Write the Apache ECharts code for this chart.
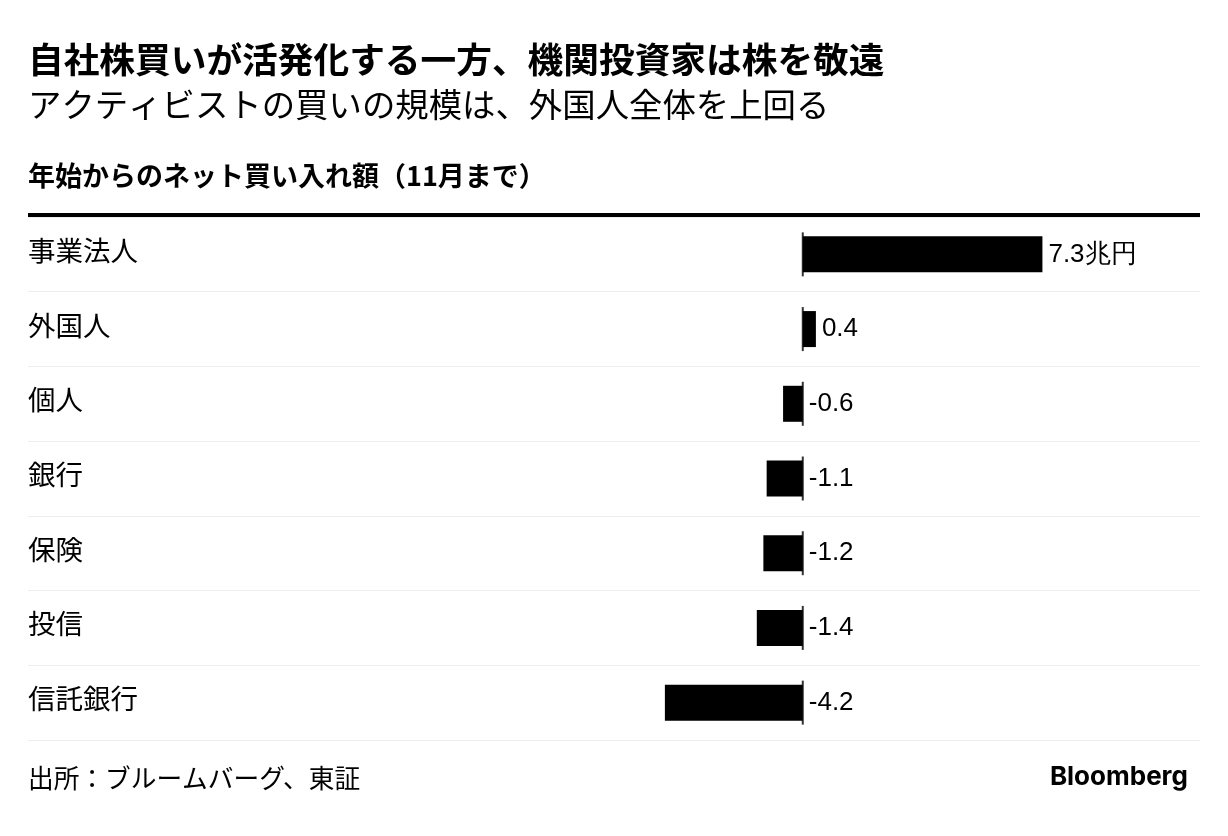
<!DOCTYPE html>
<html><head><meta charset="utf-8">
<script src="https://cdn.jsdelivr.net/npm/echarts@6/dist/echarts.min.js"></script>
<style>html,body{margin:0;padding:0;background:#fff}#c{width:1228px;height:836px}</style>
</head><body><div id="c"></div>
<script>
const categories = ['事業法人','外国人','個人','銀行','保険','投信','信託銀行'];
const values = [7.3, 0.4, -0.6, -1.1, -1.2, -1.4, -4.2];
const valueLabels = ['7.3兆円','0.4','-0.6','-1.1','-1.2','-1.4','-4.2'];
const zeroMarks = categories.map(() => 0);

const FONT = '"Noto Sans CJK JP", "Noto Sans", sans-serif';
const chart = echarts.init(document.getElementById('c'));
chart.setOption({
  backgroundColor: '#fff',
  animation: false,
  title: [
    {text: '自社株買いが活発化する一方、機関投資家は株を敬遠', left: 23, top: 37,
     textStyle: {fontFamily: FONT, fontSize: 35.7, fontWeight: 'bold', color: '#000'}},
    {text: 'アクティビストの買いの規模は、外国人全体を上回る', left: 23, top: 83,
     textStyle: {fontFamily: FONT, fontSize: 33.4, fontWeight: 'normal', color: '#000'}},
    {text: '年始からのネット買い入れ額（11月まで）', left: 23, top: 157,
     textStyle: {fontFamily: FONT, fontSize: 27, fontWeight: 'bold', color: '#000'}},
    {text: '出所：ブルームバーグ、東証', left: 23, top: 760,
     textStyle: {fontFamily: FONT, fontSize: 25.7, fontWeight: 'normal', color: '#000'}},
    {text: 'Bloomberg', right: 35, top: 759,
     textStyle: {fontFamily: 'Inter, Roboto, sans-serif', fontSize: 26, fontWeight: 'bold', color: '#000'}}
  ],
  graphic: [
    {type: 'rect', shape: {x: 28, y: 213, width: 1172, height: 4}, style: {fill: '#000'}}
  ],
  grid: {left: 28, right: 28, top: 217, bottom: 96, containLabel: false},
  xAxis: {type: 'value', min: -23.6, max: 12.1, show: false},
  yAxis: {
    type: 'category', data: categories, inverse: true,
    axisLine: {show: false}, axisTick: {show: false},
    axisLabel: {inside: true, margin: 0, align: 'left', verticalAlign: 'middle',
      formatter: v => '{a|' + v + '}',
      rich: {a: {fontFamily: FONT, fontSize: 27.5, color: '#000', padding: [0, 0, 8, 0]}},
      fontFamily: FONT, fontSize: 27.5, color: '#000'},
    splitLine: {show: true, lineStyle: {color: '#eeeeee', width: 1}}
  },
  series: [
    {type: 'bar', data: values, barWidth: 36, itemStyle: {color: '#000'},
     label: {show: true, position: 'right', distance: 6, fontFamily: 'Arial, "Liberation Sans", sans-serif',
       fontSize: 26, color: '#000',
       formatter: p => valueLabels[p.dataIndex]}},
    {type: 'scatter', data: zeroMarks, symbol: 'rect', symbolSize: [2, 44],
     itemStyle: {color: '#000'}, z: 5, silent: true}
  ]
});
</script></body></html>
